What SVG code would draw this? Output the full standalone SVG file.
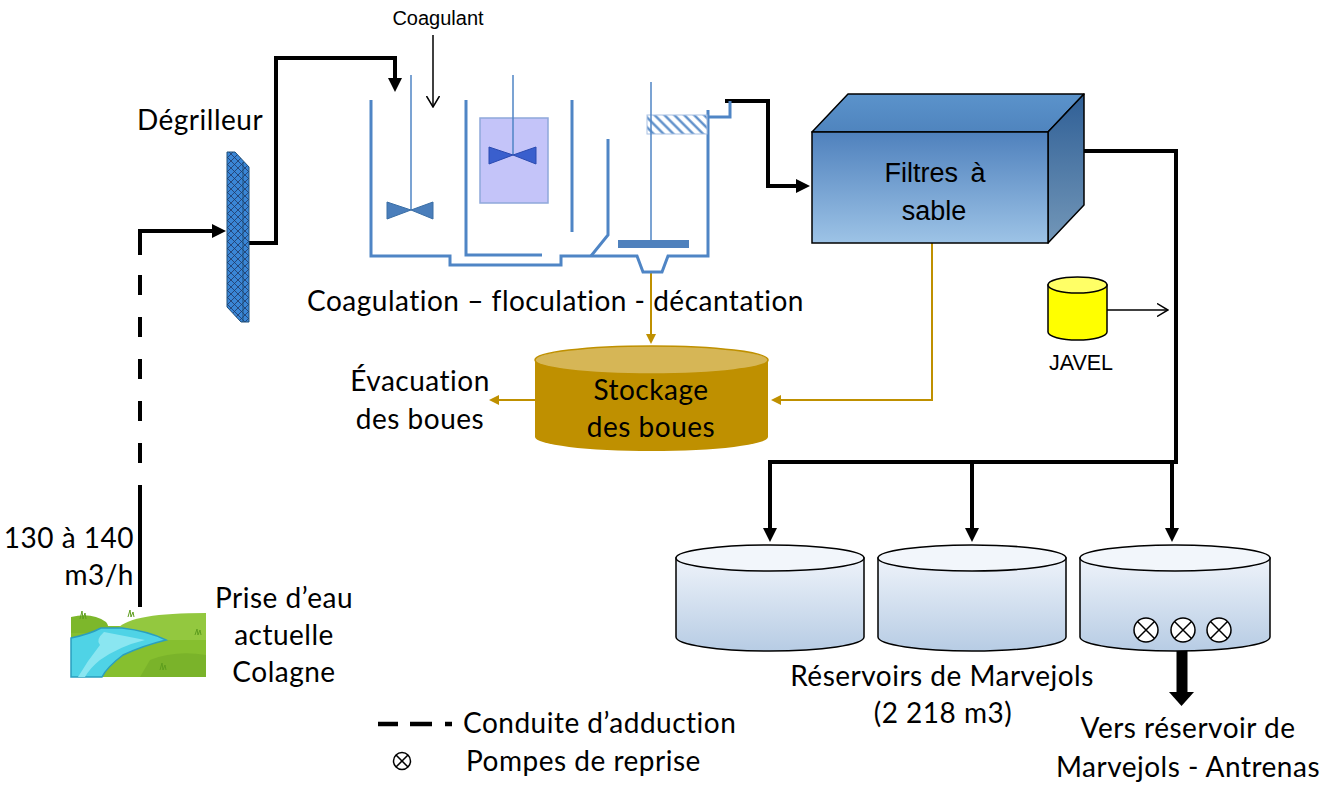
<svg xmlns="http://www.w3.org/2000/svg" width="1339" height="785" viewBox="0 0 1339 785">
  <style>
    .lbl { font-family: "Lato", "Open Sans", sans-serif; font-size: 28px; letter-spacing: 0.5px; fill: #000; }
    .sm { font-family: "Liberation Sans", Arial, sans-serif; fill: #000; }
    .pipe { fill: none; stroke: #000; stroke-width: 4; }
    .tank { fill: none; stroke: #4F85C5; stroke-width: 3; }
    .shaft { fill: none; stroke: #4F85C5; stroke-width: 1.5; }
    .sludge { fill: none; stroke: #BF9000; stroke-width: 2; }
    .thin { fill: none; stroke: #000; stroke-width: 1.5; }
    .res { stroke: #000; stroke-width: 1.5; }
    .pump circle { fill: #fff; stroke: #000; stroke-width: 1.5; }
    .pump path { stroke: #000; stroke-width: 1.5; fill: none; }
  </style>
  <defs>
    <marker id="ah" viewBox="0 -7 14 14" refX="1" refY="0" markerWidth="14" markerHeight="14" markerUnits="userSpaceOnUse" orient="auto">
      <path d="M0,-7 L14,0 L0,7 z" fill="#000"/>
    </marker>
    <marker id="ahGold" viewBox="0 -5 10 10" refX="1" refY="0" markerWidth="10" markerHeight="10" markerUnits="userSpaceOnUse" orient="auto">
      <path d="M0,-5 L10,0 L0,5 z" fill="#BF9000"/>
    </marker>
    <marker id="ahOpen" viewBox="0 -7 12 14" refX="11" refY="0" markerWidth="12" markerHeight="14" markerUnits="userSpaceOnUse" orient="auto">
      <path d="M0,-6.5 L11,0 L0,6.5" fill="none" stroke="#000" stroke-width="1.5"/>
    </marker>
    <pattern id="mesh" width="7" height="7" patternUnits="userSpaceOnUse">
      <rect width="7" height="7" fill="#3A86D6"/>
      <path d="M0,0 L7,7 M7,0 L0,7" stroke="#1F3864" stroke-width="0.8"/>
    </pattern>
    <pattern id="hatch" width="7" height="7" patternUnits="userSpaceOnUse" patternTransform="rotate(-45)">
      <rect width="7" height="7" fill="#fff"/>
      <line x1="3.5" y1="0" x2="3.5" y2="7" stroke="#4F85C5" stroke-width="2.2"/>
    </pattern>
    <linearGradient id="gFront" x1="0" y1="0" x2="0" y2="1">
      <stop offset="0" stop-color="#4F81BD"/>
      <stop offset="1" stop-color="#9DC3E6"/>
    </linearGradient>
    <linearGradient id="gTop" x1="0" y1="0" x2="0" y2="1">
      <stop offset="0" stop-color="#5B93CB"/>
      <stop offset="1" stop-color="#4F84BE"/>
    </linearGradient>
    <linearGradient id="gSide" x1="0" y1="0" x2="0" y2="1">
      <stop offset="0" stop-color="#2F5F96"/>
      <stop offset="1" stop-color="#7397B8"/>
    </linearGradient>
    <linearGradient id="gRes" x1="0" y1="0" x2="0" y2="1">
      <stop offset="0" stop-color="#EEF3FA"/>
      <stop offset="1" stop-color="#B7CCE4"/>
    </linearGradient>
  </defs>

  <!-- connectors -->
  <g id="connectors">
    <!-- raw water main from intake to screen -->
    <path d="M140,608 V505" class="pipe" stroke-width="4.5"/>
    <path d="M140,505 V253" class="pipe" stroke-width="4.5" stroke-dasharray="20 22"/>
    <path d="M140,255 V231 H213" class="pipe" marker-end="url(#ah)"/>
    <!-- screen to coagulation tank -->
    <path d="M248,243 H276 V58 H395 V79" class="pipe" marker-end="url(#ah)"/>
    <!-- settling outlet to sand filters -->
    <path d="M725,101 H768 V186 H797" class="pipe" marker-end="url(#ah)"/>
    <!-- filtered water to reservoirs -->
    <path d="M1084,151 H1176 V462 H770 V529" class="pipe" marker-end="url(#ah)"/>
    <path d="M972,462 V529" class="pipe" marker-end="url(#ah)"/>
    <path d="M1172,462 V529" class="pipe" marker-end="url(#ah)"/>
    <!-- coagulant dosing -->
    <path d="M433,35 V107" class="thin" marker-end="url(#ahOpen)"/>
    <!-- chlorine dosing -->
    <path d="M1107,310 H1168" class="thin" marker-end="url(#ahOpen)"/>
    <!-- sludge lines -->
    <path d="M651,272 V335" class="sludge" marker-end="url(#ahGold)"/>
    <path d="M932,243 V400 H780" class="sludge" marker-end="url(#ahGold)"/>
    <path d="M535,400 H498" class="sludge" marker-end="url(#ahGold)"/>
    <!-- transfer to Antrenas -->
    <path d="M1182,647 V692" stroke="#000" stroke-width="11" fill="none"/>
    <path d="M1169,692 H1194 L1181.5,706 Z" fill="#000"/>
  </g>

  <!-- intake -->
  <g id="prise-eau">
    <rect x="71" y="607" width="135" height="70" fill="#fff"/>
    <rect x="71" y="626" width="135" height="51" fill="#86BF2F"/>
    <path d="M118,628 Q132,613 206,613 V640 H118 Z" fill="#93C83F"/>
    <path d="M71,617 Q92,612 106,622 Q112,629 100,633 H71 Z" fill="#7DB72B"/>
    <path d="M150,660 Q175,650 206,655 V677 H140 Z" fill="#7AB32A"/>
    <path d="M101,628 L122,628 Q148,631 166,640 Q142,646 123,655 Q107,667 102,677 H71 V638 Q90,634 101,628 Z" fill="#4FD3E6" stroke="#2A9FBF" stroke-width="1.5"/>
    <path d="M104,632 Q125,636 145,640 Q120,646 100,660 Q90,668 85,677 H78 Q88,660 100,645 Q95,640 104,632 Z" fill="#8AE6F1"/>
    <path d="M80,619 l2,-8 l1,8 l2,-6 l1,6 M128,617 l2,-7 l1,7 l2,-5 l1,5 M160,670 l2,-7 l1,7 l2,-5 l1,5 M195,635 l2,-6 l1,6 l2,-5 l1,5" stroke="#5E9E1E" stroke-width="1" fill="none"/>
  </g>
  <g id="intake-labels">
    <text class="lbl" x="134" y="548" text-anchor="end">130 à 140</text>
    <text class="lbl" x="134" y="585" text-anchor="end">m3/h</text>
    <text class="lbl" x="284" y="608" text-anchor="middle">Prise d’eau</text>
    <text class="lbl" x="284" y="645" text-anchor="middle">actuelle</text>
    <text class="lbl" x="284" y="682" text-anchor="middle">Colagne</text>
  </g>

  <!-- screen -->
  <g id="degrilleur">
    <polygon points="227,152 235,152 249,167 249,322 241,322 227,307" fill="url(#mesh)" stroke="#1F4E79" stroke-width="1"/>
    <line x1="243" y1="162" x2="243" y2="322" stroke="#1F4E79" stroke-width="1"/>
    <text class="lbl" x="200" y="130" text-anchor="middle">Dégrilleur</text>
  </g>

  <!-- coagulation / flocculation / settling -->
  <g id="decanteur">
    <path class="tank" d="M371,100 V256 H450 V265 H561 V256 H637 L643,272 H662 L668,256 H708 V110"/>
    <path class="tank" d="M708,117 H730 V101"/>
    <path class="tank" d="M466,100 V255 H542"/>
    <path class="tank" d="M572,100 V232"/>
    <path class="tank" d="M608,139 V235 L591,256"/>
    <path class="shaft" d="M411,75 V210"/>
    <path d="M387,202 L411,210 L433,202 V219 L411,210 L387,219 Z" fill="#4A7EBB" stroke="#3A6EA5" stroke-width="1"/>
    <rect x="480" y="118" width="68" height="85" fill="#C4C4F9" stroke="#8FA8DA" stroke-width="1.5"/>
    <path class="shaft" d="M513,75 V155"/>
    <path d="M489,147 L513,155 L536,147 V164 L513,155 L489,164 Z" fill="#3A5FCD" stroke="#2B4BB0" stroke-width="1"/>
    <rect x="647" y="115" width="60" height="19" fill="url(#hatch)" stroke="#A9C1E3" stroke-width="1"/>
    <path class="shaft" d="M651,82 V240"/>
    <rect x="618" y="240" width="71" height="8" fill="#4F81BD"/>
    <text class="sm" x="438" y="25" text-anchor="middle" font-size="20">Coagulant</text>
    <text class="lbl" x="307" y="311">Coagulation – floculation - décantation</text>
  </g>

  <!-- sand filters -->
  <g id="filtres">
    <polygon points="812,132 848,94 1084,94 1048,132" fill="url(#gTop)" stroke="#000" stroke-width="1.5" stroke-linejoin="round"/>
    <polygon points="1048,132 1084,94 1084,205 1048,243" fill="url(#gSide)" stroke="#000" stroke-width="1.5" stroke-linejoin="round"/>
    <rect x="812" y="132" width="236" height="111" fill="url(#gFront)" stroke="#000" stroke-width="1.5"/>
    <text class="sm" x="935" y="182" text-anchor="middle" font-size="27" word-spacing="5">Filtres à</text>
    <text class="sm" x="934" y="220" text-anchor="middle" font-size="27">sable</text>
  </g>

  <!-- chlorine -->
  <g id="javel">
    <path d="M1048,285 V332 A29.5,8 0 0 0 1107,332 V285 Z" fill="#FFFF00" stroke="#000" stroke-width="1.5"/>
    <ellipse cx="1077.5" cy="285" rx="29.5" ry="8" fill="#FFFF66" stroke="#000" stroke-width="1.5"/>
    <text class="sm" x="1081" y="370" text-anchor="middle" font-size="21.5" fill="#333">JAVEL</text>
  </g>

  <!-- sludge storage -->
  <g id="stockage">
    <path d="M535,360 V437 A116.5,14 0 0 0 768,437 V360 Z" fill="#BF9000"/>
    <ellipse cx="651.5" cy="360" rx="116.5" ry="14" fill="#D6B656" stroke="#BF9000" stroke-width="1.5"/>
    <text class="lbl" x="651" y="400" text-anchor="middle">Stockage</text>
    <text class="lbl" x="651" y="437" text-anchor="middle">des boues</text>
  </g>
  <g id="evacuation">
    <text class="lbl" x="420" y="391" text-anchor="middle">Évacuation</text>
    <text class="lbl" x="420" y="429" text-anchor="middle">des boues</text>
  </g>

  <!-- reservoirs -->
  <g id="reservoir-1">
    <path class="res" d="M676,558 V637 A94,14 0 0 0 864,637 V558 Z" fill="url(#gRes)"/>
    <ellipse class="res" cx="770" cy="558" rx="94" ry="13" fill="#F2F6FB"/>
  </g>
  <g id="reservoir-2">
    <path class="res" d="M878,558 V637 A94,14 0 0 0 1066,637 V558 Z" fill="url(#gRes)"/>
    <ellipse class="res" cx="972" cy="558" rx="94" ry="13" fill="#F2F6FB"/>
  </g>
  <g id="reservoir-3">
    <path class="res" d="M1080,558 V637 A95,14 0 0 0 1270,637 V558 Z" fill="url(#gRes)"/>
    <ellipse class="res" cx="1175" cy="558" rx="95" ry="13" fill="#F2F6FB"/>
    <g class="pump">
      <circle cx="1146" cy="630" r="12"/><path d="M1137.5,621.5 L1154.5,638.5 M1154.5,621.5 L1137.5,638.5"/>
      <circle cx="1183" cy="630" r="12"/><path d="M1174.5,621.5 L1191.5,638.5 M1191.5,621.5 L1174.5,638.5"/>
      <circle cx="1219" cy="630" r="12"/><path d="M1210.5,621.5 L1227.5,638.5 M1227.5,621.5 L1210.5,638.5"/>
    </g>
  </g>
  <g id="reservoir-labels">
    <text class="lbl" x="942" y="686" text-anchor="middle">Réservoirs de Marvejols</text>
    <text class="lbl" x="943" y="723" text-anchor="middle">(2 218 m3)</text>
    <text class="lbl" x="1188" y="738" text-anchor="middle">Vers réservoir de</text>
    <text class="lbl" x="1188" y="777" text-anchor="middle">Marvejols - Antrenas</text>
  </g>

  <!-- legend -->
  <g id="legende">
    <path d="M378,724 H398 M410,724 H432 M445,724 H452" stroke="#000" stroke-width="4.5" fill="none"/>
    <text class="lbl" x="463" y="733">Conduite d’adduction</text>
    <g class="pump">
      <circle cx="402" cy="761" r="8.5"/><path d="M396,755 L408,767 M408,755 L396,767"/>
    </g>
    <text class="lbl" x="466" y="771">Pompes de reprise</text>
  </g>
</svg>
